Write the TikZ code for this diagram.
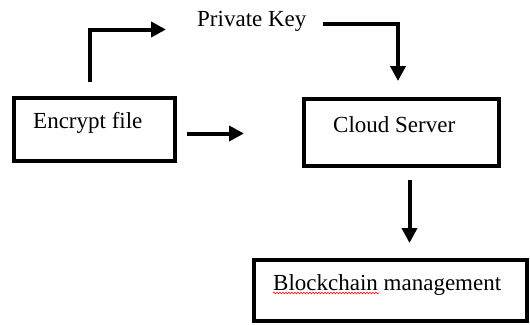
\documentclass[tikz,border=0pt]{standalone}
\usepackage{fontspec}
\setmainfont{Liberation Serif}
\usetikzlibrary{arrows.meta,calc,decorations.pathmorphing}

\tikzset{
  box/.style={draw, line width=4pt, inner sep=0pt},
  lbl/.style={inner sep=0pt, anchor=base west, font=\fontsize{23}{27}\selectfont},
  flow/.style={line width=4pt, -{Triangle[length=15pt,width=15pt]}},
  squiggle/.style={red, line width=0.6pt, decorate,
    decoration={snake, amplitude=0.8pt, segment length=3pt}}
}

\begin{document}
\begin{tikzpicture}[x=1pt,y=-1pt]
  \useasboundingbox (0,0) rectangle (530,324);

  % boxes
  \node[box, minimum width=161pt, minimum height=63pt] (enc) at (94.5,129.5) {};
  \node[box, minimum width=195pt, minimum height=67pt] (cloud) at (401.5,132.5) {};
  \node[box, minimum width=273pt, minimum height=61pt] (chain) at (390.5,290.5) {};

  % labels
  \node[lbl] (enct)  at (33,128)  {Encrypt file};
  \node[lbl] (pk)    at (197,27)  {Private Key};
  \node[lbl] (cloudt) at (333,132) {Cloud Server};
  \node[lbl] (chaint) at (273,290) {Blockchain management};

  % spell-check underline
  \draw[squiggle] ($(chaint.base west)+(0,3)$) -- ++(106,0);

  % connectors
  \coordinate (keyend) at ($(pk.base west)+(-31,2.5)$);
  \draw[flow] ($(enc.north)+(-5,-14)$) |- (keyend);
  \draw[flow] ($(pk.base east)+(16,-3.5)$) -| ($(cloud.north)+(-3.5,-16)$);
  \coordinate (midend) at ($(enc.east)+(67,4)$);
  \draw[flow] ($(enc.east)+(10,4)$) -- (midend);
  \draw[flow] ($(cloud.south)+(8,12)$) -- ($(chain.north)+(19,-15)$);
\end{tikzpicture}
\end{document}
